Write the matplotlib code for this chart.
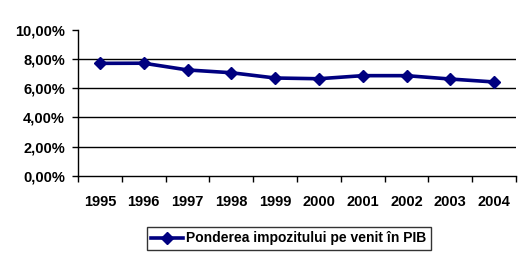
import matplotlib
matplotlib.use("Agg")
import matplotlib.pyplot as plt
import numpy as np

years = ["1995", "1996", "1997", "1998", "1999", "2000", "2001", "2002", "2003", "2004"]
share = [7.69, 7.70, 7.24, 7.05, 6.69, 6.64, 6.85, 6.85, 6.62, 6.42]
series_label = "Ponderea impozitului pe venit în PIB"
yticks = [0, 2, 4, 6, 8, 10]

plt.rcParams["font.family"] = ["Liberation Sans", "DejaVu Sans"]
plt.rcParams["font.weight"] = "bold"

fig = plt.figure(figsize=(5.32, 2.60), dpi=100)
ax = fig.add_axes([0.1466, 0.323, 0.970 - 0.1466, 0.8865 - 0.323])

x = np.arange(len(years))
ax.plot(x, share, color="#000080", lw=2.6, marker="D", ms=6.5,
        mec="#000080", mfc="#000080", label=series_label, zorder=3)

ax.set_xlim(-0.5, len(years) - 0.5)
ax.set_ylim(0, 10)
ax.set_yticks(yticks)
ax.set_yticklabels([f"{v:.2f}".replace(".", ",") + "%" for v in yticks], fontsize=10.5, fontweight="bold")
ax.set_xticks(x)
ax.set_xticklabels(years, fontsize=10.5, fontweight="bold")
ax.set_xticks(np.arange(len(years) + 1) - 0.5, minor=True)
ax.tick_params(axis="x", which="major", length=0, pad=14)
ax.tick_params(axis="x", which="minor", length=4, width=1, direction="out")
ax.tick_params(axis="y", length=4.3, width=1, direction="out", pad=5)

for v in yticks[1:-1]:
    ax.axhline(v, color="black", lw=1, zorder=1)

for s in ["top", "right"]:
    ax.spines[s].set_visible(False)
for s in ["left", "bottom"]:
    ax.spines[s].set_linewidth(1)
    ax.spines[s].set_color("black")

leg = fig.legend(loc="center", bbox_to_anchor=(0.543, 0.0827), frameon=True,
                 fancybox=False, edgecolor="black", handlelength=2.3,
                 handletextpad=0.25, borderpad=0.3, prop={"size": 10, "weight": "bold"})
leg.get_frame().set_linewidth(1)

fig.savefig("out.png", dpi=100)
